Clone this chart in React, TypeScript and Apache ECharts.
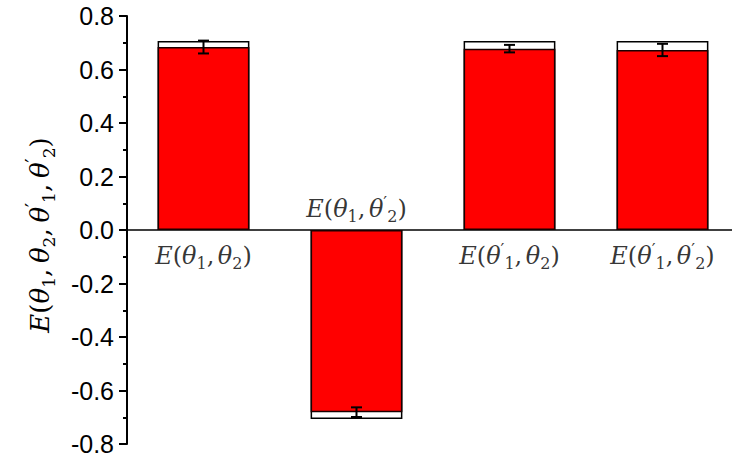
import React, { useEffect, useRef } from "react";
import * as echarts from "echarts";

const categories = ["E(θ₁, θ₂)", "E(θ₁, θ′₂)", "E(θ′₁, θ₂)", "E(θ′₁, θ′₂)"];
const theory = [0.707, -0.707, 0.707, 0.707];
const measured = [0.684, -0.681, 0.678, 0.673];
const errors = [0.024, 0.018, 0.014, 0.023];
const yTitle = "E(θ₁, θ₂, θ′₁, θ′₂)";

const mathFont = "DejaVu Serif";

function toRich(s: string): string {
  let out = "";
  for (const c of s) {
    if (c === "E" || c === "θ") out += `{i|${c}}`;
    else if (c === "₁") out += `{sub|1}`;
    else if (c === "₂") out += `{sub|2}`;
    else if (c === "′") out += `{sup|′}`;
    else if (c === " ") out += `{sp| }`;
    else out += `{n|${c}}`;
  }
  return out;
}

function richStyles(size: number, spaceScale: number) {
  const lh = Math.round(size * 1.3);
  const ss = Math.round(size * 0.66);
  return {
    i: { fontFamily: mathFont, fontStyle: "italic", fontSize: size, lineHeight: lh, color: "#000", verticalAlign: "middle" },
    n: { fontFamily: mathFont, fontStyle: "normal", fontSize: size, lineHeight: lh, color: "#000", verticalAlign: "middle" },
    sp: { fontFamily: mathFont, fontSize: Math.round(size * spaceScale), lineHeight: lh, color: "#000" },
    sub: { fontFamily: mathFont, fontSize: ss, lineHeight: ss, color: "#000", verticalAlign: "bottom" },
    sup: {
      fontFamily: mathFont,
      fontSize: Math.round(size * 0.7),
      lineHeight: Math.round(size * 0.7),
      color: "#000",
      verticalAlign: "top",
    },
  };
}

export default function App() {
  const ref = useRef<HTMLDivElement>(null);
  useEffect(() => {
    if (!ref.current) return;
    const chart = echarts.init(ref.current, undefined, { renderer: "svg" });
    chart.setOption({
      animation: false,
      backgroundColor: "#fff",
      grid: { left: 127, top: 16, width: 612, bottom: 14, containLabel: false, outerBoundsMode: "none" },
      xAxis: {
        type: "category",
        data: categories,
        axisLine: { show: true, onZero: true, lineStyle: { color: "#000", width: 1.5 } },
        axisTick: { show: false },
        axisLabel: { show: false },
        splitLine: { show: false },
      },
      yAxis: {
        type: "value",
        min: -0.8,
        max: 0.8,
        interval: 0.2,
        axisLine: { show: true, lineStyle: { color: "#000", width: 2 } },
        axisTick: { show: true, length: 8, lineStyle: { color: "#000", width: 2 } },
        minorTick: { show: true, splitNumber: 2, length: 4, lineStyle: { color: "#000", width: 2 } },
        splitLine: { show: false },
        axisLabel: {
          color: "#000",
          fontSize: 25,
          fontFamily: "Liberation Sans",
          margin: 13,
          formatter: (v: number) => v.toFixed(1),
        },
      },
      series: [
        {
          type: "bar",
          data: theory,
          barWidth: "60%",
          barGap: "-100%",
          itemStyle: { color: "#fff", borderColor: "#000", borderWidth: 1.5 },
          z: 2,
        },
        {
          type: "bar",
          data: measured,
          barWidth: "60%",
          itemStyle: { color: "#ff0000", borderColor: "#1a0000", borderWidth: 1.5 },
          z: 3,
        },
        {
          type: "custom",
          z: 5,
          data: measured.map((v, i) => [i, v, errors[i]]),
          renderItem: (params: any, api: any) => {
            const x = api.value(0);
            const m = api.value(1);
            const e = api.value(2);
            const top = api.coord([x, m + e]);
            const bot = api.coord([x, m - e]);
            const hw = 5.5;
            const st = { stroke: "#000", lineWidth: 2 };
            return {
              type: "group",
              children: [
                { type: "line", shape: { x1: top[0], y1: top[1], x2: bot[0], y2: bot[1] }, style: st },
                { type: "line", shape: { x1: top[0] - hw, y1: top[1], x2: top[0] + hw, y2: top[1] }, style: st },
                { type: "line", shape: { x1: bot[0] - hw, y1: bot[1], x2: bot[0] + hw, y2: bot[1] }, style: st },
              ],
            };
          },
        },
        {
          type: "scatter",
          symbolSize: 0,
          z: 6,
          data: theory.map((t, i) => ({
            value: [i, 0],
            label: {
              show: true,
              position: t >= 0 ? "bottom" : "top",
              distance: t >= 0 ? 10 : 6,
              formatter: toRich(categories[i]),
            },
          })),
          label: {
            color: "#000",
            fontSize: 24,
            fontFamily: mathFont,
            rich: richStyles(24, 0.45),
          },
        },
      ],
      graphic: [
        {
          type: "text",
          x: 40,
          y: 235,
          rotation: Math.PI / 2,
          style: {
            text: toRich(yTitle),
            fill: "#000",
            fontFamily: mathFont,
            fontSize: 26,
            rich: richStyles(26, 0.7),
            align: "center",
            verticalAlign: "middle",
          },
        },
      ],
    });
    return () => chart.dispose();
  }, []);
  return <div ref={ref} style={{ position: "fixed", left: 0, top: 0, width: 732, height: 458 }} />;
}
